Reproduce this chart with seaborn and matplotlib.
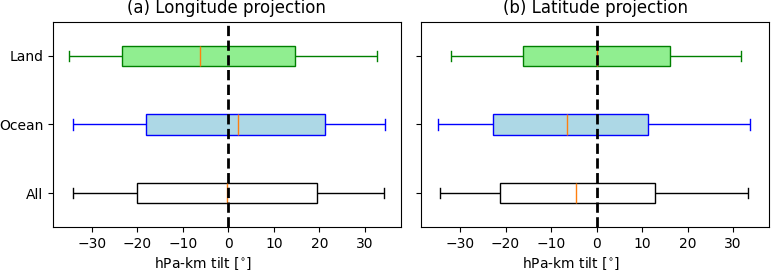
import numpy as np
import pandas as pd
import seaborn as sns
import matplotlib
matplotlib.use("Agg")
import matplotlib.pyplot as plt

# summary values: [whisker low, Q1, median, Q3, whisker high]
regions = ["Land", "Ocean", "All"]
lon_land = [-35.0, -23.4, -6.3, 14.7, 32.6]
lon_ocean = [-34.1, -18.2, 2.2, 21.2, 34.4]
lon_all = [-34.1, -20.1, -0.4, 19.5, 34.1]
lat_land = [-32.0, -16.2, 0.0, 16.2, 31.8]
lat_ocean = [-34.9, -22.8, -6.5, 11.2, 33.8]
lat_all = [-34.3, -21.2, -4.5, 12.9, 33.2]

face_colors = {"Land": "lightgreen", "Ocean": "lightblue", "All": "white"}
edge_colors = {"Land": "green", "Ocean": "blue", "All": "black"}

# 5 points per group -> quartiles hit the 2nd/3rd/4th value exactly
rows = []
for panel, vals in [("lon", [lon_land, lon_ocean, lon_all]),
                    ("lat", [lat_land, lat_ocean, lat_all])]:
    for reg, v in zip(regions, vals):
        for x in v:
            rows.append({"panel": panel, "region": reg, "tilt": x})
df = pd.DataFrame(rows)

fig, axes = plt.subplots(1, 2, figsize=(7.71, 2.70), dpi=100, sharey=True)
fig.subplots_adjust(left=0.069, right=0.997, top=0.920, bottom=0.158, wspace=0.06)

titles = {"lon": "(a) Longitude projection", "lat": "(b) Latitude projection"}
for ax, panel in zip(axes, ["lon", "lat"]):
    for reg in regions:
        sub = df[(df.panel == panel) & (df.region == reg)]
        sns.boxplot(data=sub, x="tilt", y="region", order=regions, ax=ax,
                    color=face_colors[reg], linecolor=edge_colors[reg],
                    saturation=1, width=0.3, whis=(0, 100), linewidth=1,
                    medianprops=dict(color="C1", linewidth=1))
    ax.axvline(0, color="black", linestyle="--", linewidth=2, zorder=10)
    ax.set_title(titles[panel], fontsize=12)
    # label sits a bit left of centre in the original
    ax.set_xlabel(r"hPa-km tilt [$^{\circ}$]", labelpad=3, x=0.43)
    ax.set_ylabel("")
    ax.set_xticks([-30, -20, -10, 0, 10, 20, 30])
    ax.set_xlim(-38.5, 37.8)

plt.savefig("out.png", dpi=100)
